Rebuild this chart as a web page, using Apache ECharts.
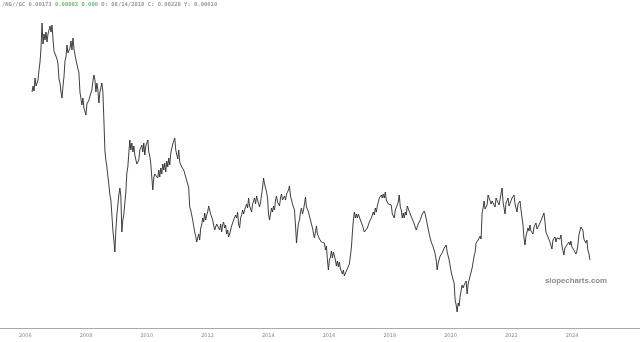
<!DOCTYPE html>
<html>
<head>
<meta charset="utf-8">
<script src="https://cdn.jsdelivr.net/npm/echarts@6/dist/echarts.min.js"></script>
<style>html,body{margin:0;padding:0;background:#fff}#c{width:640px;height:342px}</style>
</head>
<body>
<div id="c"></div>
<script>
// Sampling grid in decimal years: first sample and spacing between samples (12 days)
const firstYear = 2006.222;
const stepYears = 12 / 365.25;
// /NG//GC ratio, in thousandths (x 1e-3)
const ratioE3 = [
2.78,2.84,2.79,2.92,2.84,2.86,2.90,3.00,3.08,3.22,
3.47,3.26,3.36,3.30,3.38,3.28,3.36,3.36,3.44,3.38,
3.45,3.31,3.19,3.18,3.17,3.11,3.06,2.91,2.87,2.78,
2.72,2.84,2.93,3.09,3.13,3.25,3.17,3.19,3.22,3.29,
3.20,3.32,3.21,3.19,3.10,3.09,3.11,2.97,2.78,2.76,
2.65,2.72,2.62,2.63,2.55,2.66,2.68,2.70,2.72,2.77,
2.80,2.89,2.95,2.90,2.78,2.87,2.80,2.67,2.78,2.80,
2.87,2.78,2.50,2.20,2.10,2.03,1.94,1.85,1.75,1.70,
1.55,1.40,1.30,1.18,1.40,1.55,1.65,1.75,1.82,1.74,
1.38,1.50,1.56,1.67,1.78,1.97,2.03,2.17,2.30,2.20,
2.27,2.18,2.24,2.15,2.14,2.06,2.07,2.10,2.20,2.20,
2.25,2.18,2.27,2.15,2.24,2.24,2.30,2.18,2.14,2.06,
2.05,1.80,1.92,1.96,1.97,1.98,1.92,2.00,1.93,2.02,
1.96,2.06,2.00,2.07,1.98,2.09,2.03,2.12,2.05,2.17,
2.18,2.26,2.25,2.32,2.20,2.20,2.11,2.20,2.08,2.09,
2.03,2.02,2.00,2.00,1.93,1.94,1.86,1.82,1.63,1.60,
1.55,1.50,1.48,1.38,1.34,1.28,1.30,1.36,1.30,1.42,
1.45,1.52,1.48,1.57,1.50,1.55,1.58,1.64,1.60,1.56,
1.58,1.50,1.48,1.40,1.38,1.46,1.44,1.48,1.40,1.46,
1.38,1.45,1.48,1.42,1.45,1.36,1.40,1.33,1.36,1.40,
1.44,1.42,1.50,1.48,1.55,1.52,1.58,1.46,1.42,1.52,
1.55,1.60,1.56,1.60,1.58,1.66,1.62,1.72,1.64,1.62,
1.58,1.66,1.64,1.72,1.66,1.74,1.70,1.72,1.63,1.68,
1.75,1.82,1.92,1.86,1.88,1.78,1.72,1.56,1.50,1.56,
1.62,1.58,1.64,1.60,1.70,1.74,1.68,1.70,1.64,1.72,
1.76,1.70,1.68,1.74,1.70,1.76,1.74,1.80,1.84,1.74,
1.72,1.66,1.66,1.60,1.45,1.27,1.38,1.47,1.50,1.58,
1.62,1.56,1.60,1.66,1.73,1.63,1.62,1.58,1.56,1.50,
1.52,1.42,1.40,1.32,1.38,1.44,1.36,1.37,1.31,1.32,
1.28,1.30,1.26,1.27,1.20,1.24,1.10,1.00,1.10,1.13,
1.19,1.12,1.18,1.20,1.10,1.04,1.09,1.03,1.08,1.01,
1.03,0.96,1.00,0.94,0.92,0.99,1.01,0.98,1.06,1.07,
1.22,1.37,1.50,1.58,1.52,1.56,1.52,1.56,1.53,1.50,
1.52,1.45,1.44,1.38,1.39,1.36,1.42,1.43,1.48,1.46,
1.52,1.52,1.58,1.55,1.62,1.58,1.64,1.64,1.72,1.70,
1.75,1.72,1.76,1.72,1.78,1.70,1.70,1.66,1.68,1.64,
1.65,1.56,1.57,1.52,1.60,1.58,1.65,1.68,1.75,1.63,
1.60,1.52,1.57,1.52,1.58,1.55,1.64,1.63,1.64,1.56,
1.57,1.51,1.52,1.46,1.46,1.40,1.42,1.46,1.44,1.50,
1.48,1.56,1.54,1.59,1.56,1.56,1.46,1.46,1.36,1.36,
1.28,1.30,1.23,1.25,1.16,1.10,1.00,1.07,1.08,1.14,
1.12,1.17,1.16,1.22,1.20,1.25,1.18,1.19,1.10,1.08,
0.98,0.99,0.90,0.87,0.70,0.65,0.58,0.67,0.64,0.74,
0.76,0.85,0.82,0.85,0.84,0.89,0.76,0.86,0.86,0.94,
0.94,1.02,1.01,1.14,1.18,1.27,1.25,1.30,1.28,1.34,
1.31,1.57,1.62,1.69,1.61,1.62,1.65,1.75,1.76,1.74,
1.66,1.69,1.68,1.70,1.63,1.72,1.71,1.72,1.65,1.66,
1.63,1.82,1.68,1.66,1.56,1.67,1.66,1.72,1.64,1.66,
1.65,1.72,1.70,1.75,1.66,1.66,1.58,1.66,1.64,1.69,
1.60,1.59,1.45,1.32,1.25,1.34,1.36,1.42,1.39,1.45,
1.39,1.41,1.36,1.43,1.41,1.47,1.41,1.43,1.40,1.47,
1.46,1.52,1.52,1.57,1.48,1.38,1.38,1.33,1.35,1.28,
1.28,1.21,1.30,1.30,1.33,1.28,1.32,1.30,1.33,1.31,
1.35,1.24,1.22,1.15,1.22,1.21,1.25,1.23,1.28,1.25,
1.29,1.23,1.25,1.20,1.22,1.16,1.19,1.25,1.35,1.36,
1.43,1.41,1.40,1.31,1.32,1.27,1.30,1.20,1.17,1.10
];
const tickYears = [2006, 2008, 2010, 2012, 2014, 2016, 2018, 2020, 2022, 2024];
const axisStartYear = 2005.167;
const axisEndYear = 2026.238;
const headerParts = ['/NG//GC 0.00173 ', '0.00003 0.006', ' D: 08/14/2018 C: 0.00228 Y: 0.00610'];
const watermark = 'slopecharts.com';

const seriesData = ratioE3.map((v, i) => [firstYear + i * stepYears, v]);

const chart = echarts.init(document.getElementById('c'), null, {renderer: 'canvas'});
chart.setOption({
  animation: false,
  backgroundColor: '#fff',
  title: {
    text: '{a|' + headerParts[0] + '}{g|' + headerParts[1] + '}{a|' + headerParts[2] + '}',
    left: 2, top: 2, padding: 0,
    textStyle: {
      rich: {
        a: {fontFamily: 'DejaVu Sans Mono', fontSize: 5.5, color: '#999'},
        g: {fontFamily: 'DejaVu Sans Mono', fontSize: 5.5, color: '#6cbf6c'}
      }
    }
  },
  grid: {left: 0, right: 0, top: 20, bottom: 14, containLabel: false},
  xAxis: {
    type: 'value',
    min: axisStartYear,
    max: axisEndYear,
    axisLine: {show: true, lineStyle: {color: '#aaa', width: 1}},
    axisTick: {show: false},
    splitLine: {show: false},
    axisLabel: {
      customValues: tickYears,
      formatter: v => String(Math.round(v)),
      fontSize: 5, color: '#888', margin: 5, fontFamily: 'DejaVu Sans'
    }
  },
  yAxis: {
    type: 'value', min: 0.42, max: 3.50, show: false,
    splitLine: {show: false}
  },
  series: [{
    type: 'line',
    data: seriesData,
    showSymbol: false,
    lineStyle: {color: '#2a2a2a', width: 0.9},
    silent: true
  }],
  graphic: [{
    type: 'text', left: 545, top: 277,
    style: {text: watermark, font: 'bold 7.8px "Liberation Sans"', fill: '#8a8a8a'}
  }]
});
</script>
</body>
</html>
